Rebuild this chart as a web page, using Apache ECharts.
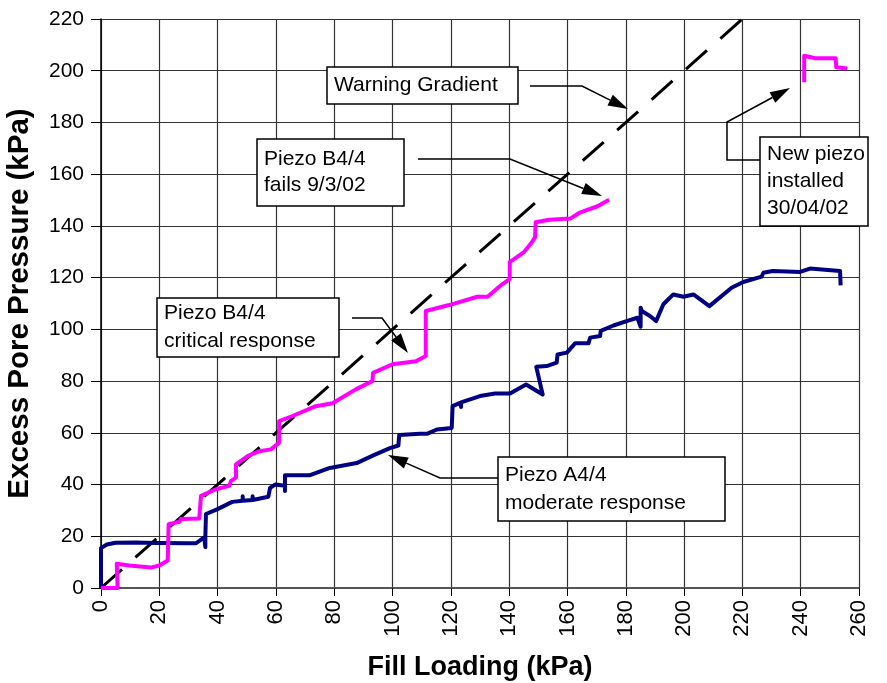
<!DOCTYPE html>
<html>
<head>
<meta charset="utf-8">
<script src="https://cdn.jsdelivr.net/npm/echarts@6/dist/echarts.min.js"></script>
<style>
  html, body { margin: 0; padding: 0; background: #fff; }
  #chart { width: 887px; height: 683px; }
</style>
</head>
<body>
<div id="chart"></div>
<script>
// axis ticks
const xTicks = { min: 0, max: 260, step: 20 };
const yTicks = { min: 0, max: 220, step: 20 };

// Piezo A4/4 (fill loading kPa, excess pore pressure kPa)
const piezoA4 = [
  [0, 0], [0, 15.4], [2, 16.8], [5, 17.5], [12, 17.6], [19, 17.4], [30, 17.3], [32.6, 17.3],
  [35.4, 19.6], [35.8, 20.3], [35.8, 15.8], [35.8, 20], [36, 28.6], [40, 30.5], [45, 33.3],
  [48.6, 33.7], [48.6, 35.5], [48.6, 33.7], [52, 34], [52, 35.5], [52, 34], [54.5, 34.6],
  [57.4, 35.3], [58, 38.7], [59.7, 40], [63.1, 39.5], [63.1, 37.5], [63.1, 43.6], [71.7, 43.6],
  [78.5, 46.4], [87.7, 48.3], [93.4, 51.3], [99.1, 54.1], [102, 55.1], [102.3, 59.2],
  [109.4, 59.6], [111.8, 59.6], [115.2, 61.3], [120.3, 61.9], [120.6, 70.3], [123.2, 71.6],
  [123.5, 70], [123.5, 71.8], [130, 74.2], [135.2, 75.2], [140.3, 75.2], [145.8, 78.7],
  [151.5, 74.8], [149.3, 85.5], [152.9, 85.8], [156.3, 87.1], [156.6, 90.3], [159.8, 91],
  [162.6, 94.6], [167.2, 94.6], [167.8, 96.8], [171.2, 97.4], [171.4, 99.4], [175.8, 101.5],
  [180.3, 103.2], [184, 104.5], [185.1, 101], [185.1, 108.4], [185.5, 107.1], [188.3, 105.2],
  [190.4, 103.2], [192.9, 109.7], [196.3, 113.5], [199.8, 112.6], [203.2, 113.5], [208.7, 109],
  [216.3, 116.1], [220.3, 118.3], [226.6, 120.4], [227.2, 121.9], [230.4, 122.6], [239.8, 122.2],
  [243.2, 123.5], [253.5, 122.6], [253.7, 117]
];

// Piezo B4/4 (until failure)
const piezoB4 = [
  [0, 0], [5.7, 0], [5.4, 9.4], [9.7, 8.7], [17.1, 7.9], [20, 8.7], [22.9, 10.6], [23.2, 24.7],
  [26.9, 25.6], [27.4, 26.7], [33.7, 26.9], [34.3, 35.6], [39.4, 38.2], [44, 39.5], [44.6, 41.4],
  [46.3, 42.7], [46.3, 47.8], [50.3, 51], [54.3, 52.9], [58.3, 53.6], [61.1, 56.2], [61.1, 64.5],
  [65.7, 66.5], [73.7, 70.3], [79.4, 71.4], [87.4, 76.8], [93.1, 80], [93.3, 83.2], [100, 86.5],
  [108, 87.7], [111.4, 89.7], [111.4, 107.1], [119.4, 109.4], [129.1, 112.6], [132.6, 112.6],
  [137.1, 117], [140.2, 119.4], [140.2, 126], [145.1, 129.9], [147.4, 133.1], [148.9, 135.6],
  [149.1, 141.4], [153.7, 142.4], [161.1, 142.9], [164, 145], [170.3, 147.6], [174.3, 150.1]
];

// replacement piezo installed 30/04/02
const piezoB4New = [
  [241.2, 195.5], [241.2, 205.8], [245, 204.8], [252, 204.8], [252.2, 201.3], [256, 200.9]
];

// warning gradient (1:1)
const warningLine = [[0, 0], [220, 220]];

const FONT = 'Liberation Sans, Arial, sans-serif';

// arrow: polyline + filled head at the last point
function arrow(points) {
  const n = points.length;
  const [x1, y1] = points[n - 2];
  const [x2, y2] = points[n - 1];
  const len = Math.hypot(x2 - x1, y2 - y1);
  const ux = (x2 - x1) / len, uy = (y2 - y1) / len;
  const hl = 20, hw = 6;
  const bx = x2 - ux * hl, by = y2 - uy * hl;
  const line = points.slice(0, n - 1).concat([[bx, by]]);
  return [
    { type: 'polyline', shape: { points: line }, style: { stroke: '#000', lineWidth: 1.5, fill: null }, z: 100 },
    {
      type: 'polygon',
      shape: { points: [[x2, y2], [bx - uy * hw, by + ux * hw], [bx + uy * hw, by - ux * hw]] },
      style: { fill: '#000' }, z: 100
    }
  ];
}

function box(x, y, w, h, text, lh) {
  return [
    { type: 'rect', shape: { x: x, y: y, width: w, height: h },
      style: { fill: '#fff', stroke: '#000', lineWidth: 1.5 }, z: 100 },
    { type: 'text', x: x + 7, y: y + h / 2, z: 101,
      style: { text: text, fill: '#000', font: '21px ' + FONT, verticalAlign: 'middle', lineHeight: lh || 26 } }
  ];
}

const chart = echarts.init(document.getElementById('chart'), null, { renderer: 'canvas' });

const option = {
  backgroundColor: '#fff',
  animation: false,
  grid: { left: 101, right: 28, top: 19, bottom: 95, containLabel: false, outerBoundsMode: 'none' },
  xAxis: {
    type: 'value', min: xTicks.min, max: xTicks.max, interval: xTicks.step,
    name: 'Fill Loading (kPa)', nameLocation: 'middle', nameGap: 66,
    nameTextStyle: { fontFamily: FONT, fontWeight: 'bold', fontSize: 27, color: '#000' },
    axisLine: { onZero: false, lineStyle: { color: '#555', width: 2 } },
    axisTick: { length: 8, lineStyle: { color: '#000' } },
    axisLabel: { rotate: 90, margin: 12, fontFamily: FONT, fontSize: 22, color: '#000' },
    splitLine: { show: true, lineStyle: { color: '#333', width: 1.2 } }
  },
  yAxis: {
    type: 'value', min: yTicks.min, max: yTicks.max, interval: yTicks.step,
    name: 'Excess Pore Pressure (kPa)', nameLocation: 'middle', nameGap: 66,
    nameTextStyle: { fontFamily: FONT, fontWeight: 'bold', fontSize: 29.5, color: '#000' },
    axisLine: { show: true, lineStyle: { color: '#000', width: 1.5 } },
    axisTick: { show: true, length: 10, lineStyle: { color: '#000' } },
    axisLabel: { margin: 17, fontFamily: FONT, fontSize: 21, color: '#000' },
    splitLine: { show: true, lineStyle: { color: '#333', width: 1.2 } }
  },
  series: [
    {
      name: 'Warning Gradient', type: 'line', data: warningLine, symbol: 'none', z: 3,
      lineStyle: { color: '#000', width: 3, type: [28, 18] }
    },
    {
      name: 'Piezo A4/4', type: 'line', data: piezoA4, symbol: 'none', z: 4,
      lineStyle: { color: '#000080', width: 4, join: 'round' }
    },
    {
      name: 'Piezo B4/4', type: 'line', data: piezoB4, symbol: 'none', z: 5,
      lineStyle: { color: '#ff00ff', width: 4, join: 'round' }
    },
    {
      name: 'Piezo B4/4 new', type: 'line', data: piezoB4New, symbol: 'none', z: 5,
      lineStyle: { color: '#ff00ff', width: 4, join: 'round' }
    }
  ],
  graphic: [].concat(
    box(327, 67, 191, 37, 'Warning Gradient'),
    arrow([[530, 86], [582, 86], [628, 109]]),
    box(257, 139, 147, 67, 'Piezo B4/4\nfails 9/3/02'),
    arrow([[418, 159], [510, 159], [602, 196]]),
    box(157, 298, 182, 59, 'Piezo B4/4\ncritical response', 28),
    arrow([[352, 318], [382, 318], [408, 353]]),
    box(498, 457, 227, 64, 'Piezo A4/4\nmoderate response', 28),
    arrow([[498, 478], [440, 478], [388, 455]]),
    box(760, 137, 108, 89, 'New piezo\ninstalled\n30/04/02', 27),
    arrow([[760, 160], [727, 160], [727, 122], [790, 88]])
  )
};

chart.setOption(option);
</script>
</body>
</html>
